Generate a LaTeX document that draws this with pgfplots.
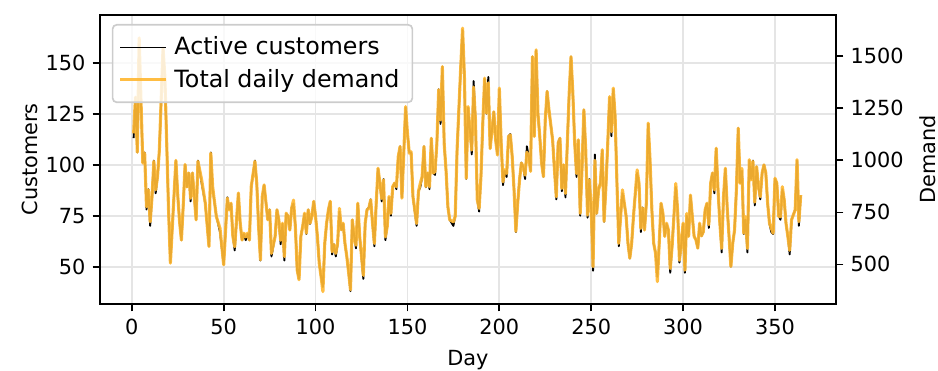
\documentclass[border=0pt]{standalone}
\usepackage{fontspec}
\setmainfont{DejaVu Sans}
\usepackage{pgfplots}
\usepackage{pgfplotstable}
\pgfplotsset{compat=1.18}

\definecolor{demandorange}{RGB}{255,184,52}

% day, active customers, total daily demand
\pgfplotstableread{
day cust dem
1 113 1129
2 133 1303
3 106 1039
4 159 1588
6 101 987
7 106 1034
8 78 777
9 88 858
10 70 705
11 84 823
12 102 995
13 86 858
14 94 921
15 107 1049
17 157 1539
18 143 1401
20 78 762
21 52 506
24 102 1000
25 85 833
26 72 706
27 63 617
28 80 784
29 100 980
30 89 872
31 96 939
32 82 818
33 96 939
35 73 714
36 102 995
38 91 907
40 81 794
42 60 586
43 106 1034
44 88 873
46 75 730
48 67 673
50 51 498
52 84 818
53 78 762
54 81 794
55 65 634
56 58 585
58 86 843
59 71 698
60 63 617
61 66 650
62 63 632
63 66 650
64 63 617
65 89 874
67 102 995
68 91 890
69 70 682
70 53 522
71 84 826
72 90 882
74 73 714
75 78 762
76 55 553
78 65 634
79 78 762
80 73 714
81 61 616
82 71 698
83 53 537
84 76 746
85 75 730
86 68 665
87 79 770
88 81 809
89 70 682
90 48 474
91 44 426
92 65 634
93 70 682
94 76 746
95 66 650
96 78 762
97 71 698
98 75 730
99 82 803
100 75 730
101 65 634
102 52 506
103 45 442
104 40 369
105 61 602
106 71 698
107 78 762
108 82 803
109 56 561
110 61 594
111 55 553
112 61 602
113 77 769
114 68 666
115 71 698
116 61 602
117 55 538
118 47 461
119 38 378
120 73 714
121 65 634
122 59 592
123 81 794
124 65 634
126 44 447
127 71 698
128 78 762
129 79 770
130 83 810
131 71 698
132 60 601
133 81 794
134 98 962
135 91 890
136 82 817
137 93 906
138 63 632
139 70 682
140 84 826
141 75 745
142 89 874
143 91 890
144 88 873
145 104 1018
146 109 1066
147 84 818
148 106 1034
149 128 1258
150 115 1130
151 106 1034
152 106 1041
153 84 826
155 70 697
156 87 851
157 89 889
158 94 922
159 109 1066
160 89 874
161 96 939
162 88 873
163 113 1106
164 96 939
165 95 946
166 110 1079
167 137 1339
168 120 1194
169 148 1450
170 110 1079
171 97 952
172 79 778
173 73 714
175 70 705
176 75 730
177 107 1048
179 148 1449
180 166 1635
181 143 1402
182 93 914
183 128 1258
184 117 1147
185 105 1049
186 141 1352
187 122 1196
188 83 810
189 77 769
190 94 922
191 120 1179
192 142 1395
193 125 1227
194 143 1372
195 108 1056
196 117 1146
197 126 1233
198 112 1097
199 105 1025
200 137 1347
201 111 1083
202 90 897
203 97 955
204 94 937
205 114 1114
206 115 1122
207 104 1018
208 88 858
209 67 659
210 81 794
211 93 906
212 101 987
213 99 971
214 93 929
215 109 1039
216 104 1018
217 97 947
218 153 1498
219 114 1114
220 156 1531
221 125 1227
222 114 1114
223 101 987
224 94 922
225 122 1195
226 136 1331
227 127 1243
229 112 1098
230 97 955
231 83 825
232 111 1083
233 113 1106
234 87 865
235 100 978
236 84 841
237 111 1083
238 135 1319
239 153 1498
240 135 1323
241 111 1083
242 94 937
243 112 1099
244 75 745
245 98 960
246 127 1243
247 107 1051
248 74 737
249 93 906
250 78 762
251 48 489
252 105 1000
253 76 746
254 88 858
255 91 890
256 107 1051
257 72 707
258 89 874
259 111 1083
260 133 1306
261 114 1137
262 137 1347
263 124 1210
264 91 890
265 60 601
266 75 730
267 86 858
268 81 794
269 75 730
270 61 602
271 54 530
272 61 602
273 75 730
274 86 843
275 96 954
276 91 890
277 67 673
278 79 770
279 68 665
280 81 794
281 120 1179
282 102 1003
283 78 762
284 61 602
285 57 554
286 45 417
287 61 602
288 81 794
289 76 746
290 65 634
291 71 698
292 68 665
293 47 480
294 60 586
295 75 730
296 89 889
297 78 762
298 52 520
299 61 602
300 71 698
301 47 472
302 75 745
303 65 634
304 85 833
305 75 730
306 65 634
307 63 618
308 59 578
309 71 698
310 65 637
311 67 657
312 78 762
313 81 794
314 69 691
315 91 890
316 96 939
317 86 858
318 108 1058
319 88 858
320 71 698
321 57 577
322 84 826
323 98 962
324 79 770
325 65 634
326 50 490
327 61 602
328 68 665
329 88 858
330 118 1154
331 91 890
332 97 961
333 66 650
334 73 729
335 57 577
336 102 1003
337 93 906
338 102 995
339 80 799
340 99 970
341 89 874
342 83 825
343 96 939
344 100 978
345 96 939
346 81 794
347 71 698
348 67 673
349 66 650
350 93 914
351 91 890
352 75 730
353 73 729
354 88 873
355 83 810
356 71 698
357 65 634
358 56 568
359 73 714
361 78 762
362 102 1003
363 70 705
364 85 833
}\dailydata

\pgfplotsset{
  twinaxis/.style={
    at={(0,0)}, anchor=south west,
    width=353.28pt, height=138.72pt, scale only axis,
    xmin=-17.3, xmax=383.2,
    axis line style={line width=0.8pt},
    tick align=outside,
    major tick length=3.5pt,
    every tick/.style={black, line width=0.8pt},
    tick label style={font=\fontsize{10}{12}\selectfont},
    label style={font=\fontsize{10}{12}\selectfont},
    /pgf/number format/assume math mode=true,
    /pgf/number format/1000 sep={},
  },
}

\begin{document}
\begin{tikzpicture}
\useasboundingbox (-48pt,-32.16pt) rectangle (402.24pt,145.92pt);

% left axis: customers
\begin{axis}[
  twinaxis,
  ymin=31.7, ymax=173.4,
  xtick={0,50,...,350}, ytick={50,75,...,150},
  xtick pos=bottom, ytick pos=left,
  grid=major, grid style={black!10, line width=0.8pt},
  xlabel={Day}, ylabel={Customers},
  xlabel style={at={(axis description cs:0.5,-0.195)}, anchor=center},
  ylabel style={at={(axis description cs:-0.095,0.5)}, anchor=center},
]
\addplot[black, line width=0.9pt, line join=round] table[x=day, y=cust]{\dailydata};
\end{axis}

% right axis: demand
\begin{axis}[
  twinaxis,
  ymin=309.7, ymax=1698.3,
  axis x line=none, axis y line*=right,
  ytick={500,750,...,1500},
  ylabel={Demand},
  ylabel style={at={(axis description cs:1.125,0.5)}, anchor=center},
  legend cell align=left,
  legend style={
    at={(axis description cs:0.016,0.969)}, anchor=north west,
    fill=white, fill opacity=0.8, draw opacity=1, text opacity=1,
    draw=black!20, rounded corners=2pt, line width=0.8pt,
    font=\fontsize{11.4}{13.7}\selectfont,
    inner xsep=3pt, inner ysep=3.8pt, row sep=1.3pt,
    nodes={inner xsep=3.2pt},
  },
  legend image code/.code={\draw[#1] (0pt,0pt) -- (22pt,0pt);},
]
\addlegendimage{black, line width=0.9pt}
\addlegendentry{Active customers}
\addplot[demandorange, draw opacity=0.92, line width=1.5pt, line join=round] table[x=day, y=dem]{\dailydata};
\addlegendentry{Total daily demand}
\end{axis}
\end{tikzpicture}
\end{document}
